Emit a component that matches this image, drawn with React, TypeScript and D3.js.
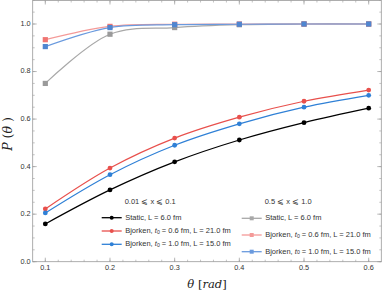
import React from "react";
import * as d3 from "d3";

const theta = [0.1, 0.2, 0.3, 0.4, 0.5, 0.6];
const staticLow = [0.159, 0.302, 0.42, 0.512, 0.585, 0.646];
const bjorkenA_Low = [0.222, 0.394, 0.52, 0.608, 0.675, 0.722];
const bjorkenB_Low = [0.205, 0.366, 0.49, 0.58, 0.65, 0.7];
const staticHigh = [0.75, 0.957, 0.985, 0.997, 1.0, 1.0];
const bjorkenA_High = [0.934, 0.99, 0.999, 1.0, 1.0, 1.0];
const bjorkenB_High = [0.905, 0.985, 0.997, 0.999, 1.0, 1.0];
const xTicks = [0.1, 0.2, 0.3, 0.4, 0.5, 0.6];
const yTicks = [0.0, 0.2, 0.4, 0.6, 0.8, 1.0];

const W = 382, H = 292;
const left = 32.7, right = 381.3, top = 0.5, bottom = 261.7;

export default function App() {
  const x = d3.scaleLinear().domain([0.0805, 0.6195]).range([left, right]);
  const y = d3.scaleLinear().domain([0, 1.1]).range([bottom, bottom - 237.7 * 1.1]);
  const line = d3.line<number>().x((_, i) => x(theta[i])).y((d) => y(d)).curve(d3.curveCatmullRom.alpha(0.5));

  const series = [
    { vals: staticHigh, color: "#9a9a9a", line: "#a8a8a8", shape: "sq" },
    { vals: bjorkenA_High, color: "#f07572", line: "#f49a98", shape: "sq" },
    { vals: bjorkenB_High, color: "#4f86d0", line: "#6a9ade", shape: "sq" },
    { vals: staticLow, color: "#000000", line: "#000000", shape: "c" },
    { vals: bjorkenA_Low, color: "#e8504c", line: "#e8504c", shape: "c" },
    { vals: bjorkenB_Low, color: "#2f80d6", line: "#2f80d6", shape: "c" },
  ];

  const xMinor = d3.range(0.08, 0.6201, 0.02).filter((v) => v >= 0.0805 && v <= 0.6195);
  const yMinor = d3.range(0, 1.1001, 0.05);
  const frame = "#9a9a9a";
  const font = "Liberation Sans, Arial, sans-serif";
  const lfs = 7.5;

  const legendLeft = [
    { label: "Static, L = 6.0 fm", color: "#000", shape: "c", t0: null },
    { label: "0.6", color: "#e8504c", shape: "c", t0: ["0.6", "21.0"] },
    { label: "1.0", color: "#2f80d6", shape: "c", t0: ["1.0", "15.0"] },
  ];
  const legendRight = [
    { label: "Static, L = 6.0 fm", color: "#a8a8a8", shape: "sq", t0: null },
    { label: "0.6", color: "#f49a98", shape: "sq", t0: ["0.6", "21.0"] },
    { label: "1.0", color: "#6a9ade", shape: "sq", t0: ["1.0", "15.0"] },
  ];

  const renderLegend = (items: any[], x0: number, ys: number[], header: string, hy: number) => (
    <g>
      <text x={x0 + 23} y={hy} fontSize={lfs} fill="#333" fontFamily={font} dominantBaseline="middle">{header}</text>
      {items.map((it, i) => (
        <g key={i}>
          <line x1={x0} x2={x0 + 20} y1={ys[i]} y2={ys[i]} stroke={it.color} strokeWidth={1.3} />
          {it.shape === "c" ? (
            <circle cx={x0 + 10} cy={ys[i]} r={2} fill={it.color} />
          ) : (
            <rect x={x0 + 8} y={ys[i] - 2} width={4} height={4} fill={it.color} />
          )}
          <text x={x0 + 23.5} y={ys[i]} fontSize={lfs} fill="#333" fontFamily={font} dominantBaseline="middle">
            {it.t0 ? (
              <>
                Bjorken, <tspan fontStyle="italic">t</tspan>
                <tspan fontSize={5.2} dy={1.6}>0</tspan>
                <tspan dy={-1.6}>{` = ${it.t0[0]} fm, L = ${it.t0[1]} fm`}</tspan>
              </>
            ) : (
              it.label
            )}
          </text>
        </g>
      ))}
    </g>
  );

  return (
    <svg width={W} height={H} style={{ position: "absolute", left: 0, top: 0, background: "#fff" }}>
      <rect x={left} y={top} width={right - left} height={bottom - top} fill="none" stroke={frame} strokeWidth={0.8} />
      {xMinor.map((v, i) => (
        <g key={"xm" + i} stroke={frame} strokeWidth={0.6}>
          <line x1={x(v)} x2={x(v)} y1={bottom} y2={bottom - 2} />
          <line x1={x(v)} x2={x(v)} y1={top} y2={top + 2} />
        </g>
      ))}
      {xTicks.map((v) => (
        <g key={"x" + v}>
          <line x1={x(v)} x2={x(v)} y1={bottom} y2={bottom - 4} stroke={frame} strokeWidth={0.7} />
          <line x1={x(v)} x2={x(v)} y1={top} y2={top + 4} stroke={frame} strokeWidth={0.7} />
          <text x={x(v)} y={bottom + 6} fontSize={7.3} fill="#333" textAnchor="middle" dominantBaseline="middle" fontFamily={font}>{v.toFixed(1)}</text>
        </g>
      ))}
      {yMinor.map((v, i) => (
        <g key={"ym" + i} stroke={frame} strokeWidth={0.6}>
          <line x1={left} x2={left + 2} y1={y(v)} y2={y(v)} />
          <line x1={right} x2={right - 2} y1={y(v)} y2={y(v)} />
        </g>
      ))}
      {yTicks.map((v) => (
        <g key={"y" + v}>
          <line x1={left} x2={left + 4} y1={y(v)} y2={y(v)} stroke={frame} strokeWidth={0.7} />
          <line x1={right} x2={right - 4} y1={y(v)} y2={y(v)} stroke={frame} strokeWidth={0.7} />
          <text x={left - 2} y={y(v)} fontSize={7.3} fill="#333" textAnchor="end" dominantBaseline="middle" fontFamily={font}>{v.toFixed(1)}</text>
        </g>
      ))}
      {series.map((s, si) => (
        <g key={si}>
          <path d={line(s.vals) || ""} fill="none" stroke={s.line} strokeWidth={1.2} />
          {s.vals.map((v, i) =>
            s.shape === "c" ? (
              <circle key={i} cx={x(theta[i])} cy={y(v)} r={2.4} fill={s.color} />
            ) : (
              <rect key={i} x={x(theta[i]) - 2.6} y={y(v) - 2.6} width={5.2} height={5.2} fill={s.color} />
            )
          )}
        </g>
      ))}
      {renderLegend(legendLeft, 101.7, [217.7, 231, 244.3], "0.01 ⩽ x ⩽ 0.1", 202)}
      {renderLegend(legendRight, 241.7, [218.3, 235, 251.7], "0.5 ⩽ x ⩽ 1.0", 202)}
      <text x={207} y={285} fontSize={11.5} fontFamily="DejaVu Serif, Liberation Serif, serif" textAnchor="middle" dominantBaseline="middle" fill="#222">
        <tspan fontStyle="italic">θ</tspan>{"  ["}<tspan fontStyle="italic">rad</tspan>]
      </text>
      <text transform={`translate(8,134) rotate(-90)`} fontSize={12.5} fontFamily="DejaVu Serif, Liberation Serif, serif" textAnchor="middle" dominantBaseline="middle" fill="#222">
        <tspan fontStyle="italic">P</tspan>{" ("}<tspan fontStyle="italic">θ</tspan>{" )"}
      </text>
    </svg>
  );
}
